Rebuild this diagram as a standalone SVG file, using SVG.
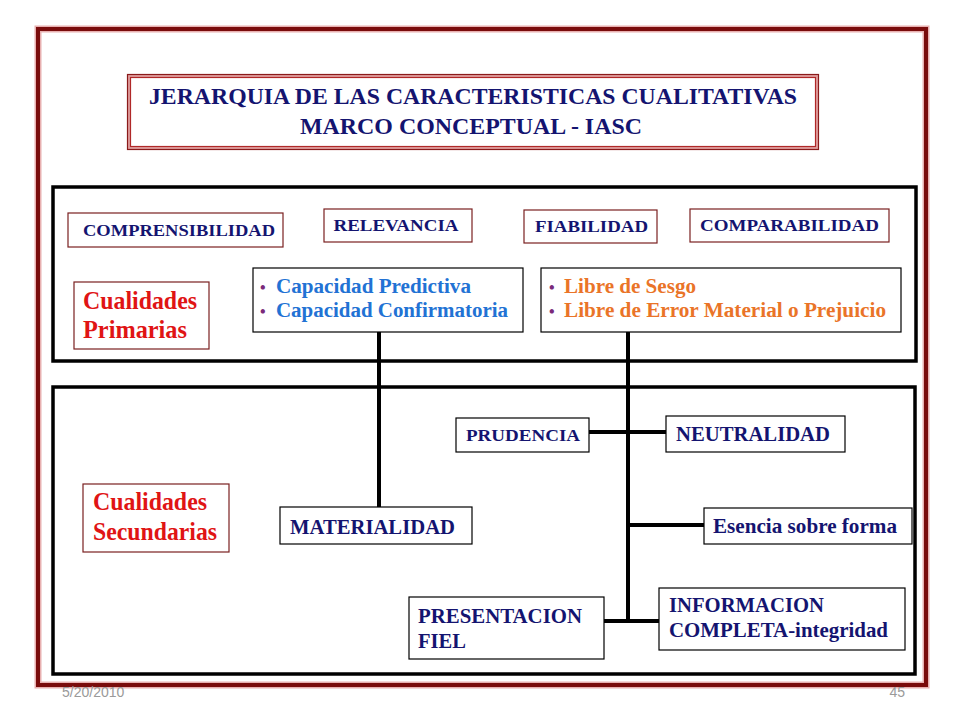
<svg xmlns="http://www.w3.org/2000/svg" width="960" height="720" viewBox="0 0 960 720">
<style>
.t{font-family:"Liberation Serif","Times New Roman",serif;font-weight:bold;fill:#141470}
.red{fill:#e01414}
.blue{fill:#2272d4}
.org{fill:#ea7428}
.bul{fill:#7a2a7a;font-size:16px}
.brn{fill:#fff;stroke:#7a2020;stroke-width:1.2}
.blk{fill:#fff;stroke:#000;stroke-width:1.2}
.conn line{stroke:#000;stroke-width:4}
.panel{fill:none;stroke:#000;stroke-width:3.5}
</style>
<rect width="960" height="720" fill="#fff"/>
<!-- outer frame -->
<rect x="38" y="29" width="888" height="656" fill="none" stroke="#e8b0b0" stroke-width="7"/>
<rect x="38" y="29" width="888" height="656" fill="none" stroke="#7a0c0c" stroke-width="4"/>
<text x="62" y="697" font-family="Liberation Sans,Arial,sans-serif" font-size="14" fill="#9a9a9a">5/20/2010</text>
<text x="905" y="697" font-family="Liberation Sans,Arial,sans-serif" font-size="14" fill="#9a9a9a" text-anchor="end">45</text>
<!-- title -->
<g id="title">
<rect x="129" y="76" width="688" height="72" fill="#fff" stroke="#e0a0a0" stroke-width="4"/>
<rect x="127.5" y="74.5" width="691" height="75" fill="none" stroke="#8a1a1a" stroke-width="1.2"/>
<rect x="130.5" y="77.5" width="685" height="69" fill="none" stroke="#b02828" stroke-width="1.2"/>
<text class="t" x="473" y="104" font-size="23" text-anchor="middle" textLength="648" lengthAdjust="spacingAndGlyphs">JERARQUIA DE LAS CARACTERISTICAS  CUALITATIVAS</text>
<text class="t" x="471" y="134" font-size="23" text-anchor="middle" textLength="342" lengthAdjust="spacingAndGlyphs">MARCO CONCEPTUAL - IASC</text>
</g>
<!-- panels -->
<rect class="panel" x="53" y="187" width="863" height="174"/>
<rect class="panel" x="53" y="387" width="862" height="287"/>
<!-- connectors -->
<g id="connectors" class="conn">
<line x1="379" y1="332" x2="379" y2="507"/>
<line x1="628" y1="332" x2="628" y2="623"/>
<line x1="589" y1="432" x2="666" y2="432"/>
<line x1="628" y1="525" x2="704" y2="525"/>
<line x1="604" y1="621" x2="659" y2="621"/>
</g>
<g id="comprensibilidad">
<rect class="brn" x="68" y="213" width="215" height="34"/>
<text class="t" x="179" y="236" font-size="17" text-anchor="middle" textLength="192" lengthAdjust="spacingAndGlyphs">COMPRENSIBILIDAD</text>
</g>
<g id="relevancia">
<rect class="brn" x="324" y="209" width="148" height="33"/>
<text class="t" x="396" y="231" font-size="17" text-anchor="middle" textLength="125" lengthAdjust="spacingAndGlyphs">RELEVANCIA</text>
</g>
<g id="fiabilidad">
<rect class="brn" x="524" y="210" width="133" height="33"/>
<text class="t" x="591.5" y="232" font-size="17" text-anchor="middle" textLength="113" lengthAdjust="spacingAndGlyphs">FIABILIDAD</text>
</g>
<g id="comparabilidad">
<rect class="brn" x="690" y="209" width="199" height="33"/>
<text class="t" x="789.5" y="231" font-size="17" text-anchor="middle" textLength="179" lengthAdjust="spacingAndGlyphs">COMPARABILIDAD</text>
</g>
<g id="cualidades-primarias">
<rect class="brn" x="74" y="282" width="135" height="67"/>
<text class="t red" x="83" y="309" font-size="25" textLength="114" lengthAdjust="spacingAndGlyphs">Cualidades</text>
<text class="t red" x="83" y="338" font-size="25" textLength="104" lengthAdjust="spacingAndGlyphs">Primarias</text>
</g>
<g id="relevancia-items">
<rect class="blk" x="253" y="268" width="270" height="64"/>
<text class="t" x="260" y="293" font-size="20"><tspan class="bul">•</tspan><tspan class="blue" x="276" textLength="195" lengthAdjust="spacingAndGlyphs">Capacidad Predictiva</tspan></text>
<text class="t" x="260" y="317" font-size="20"><tspan class="bul">•</tspan><tspan class="blue" x="276" textLength="232" lengthAdjust="spacingAndGlyphs">Capacidad Confirmatoria</tspan></text>
</g>
<g id="fiabilidad-items">
<rect class="blk" x="541" y="268" width="360" height="64"/>
<text class="t" x="549" y="293" font-size="20"><tspan class="bul">•</tspan><tspan class="org" x="564" textLength="132" lengthAdjust="spacingAndGlyphs">Libre de Sesgo</tspan></text>
<text class="t" x="549" y="317" font-size="20"><tspan class="bul">•</tspan><tspan class="org" x="564" textLength="322" lengthAdjust="spacingAndGlyphs">Libre de Error Material o Prejuicio</tspan></text>
</g>
<g id="cualidades-secundarias">
<rect class="brn" x="83" y="484" width="146" height="68"/>
<text class="t red" x="93" y="510" font-size="25" textLength="114" lengthAdjust="spacingAndGlyphs">Cualidades</text>
<text class="t red" x="93" y="540" font-size="25" textLength="124" lengthAdjust="spacingAndGlyphs">Secundarias</text>
</g>
<g id="materialidad">
<rect class="blk" x="280" y="507" width="192" height="37"/>
<text class="t" x="290" y="534" font-size="21.5" textLength="165" lengthAdjust="spacingAndGlyphs">MATERIALIDAD</text>
</g>
<g id="prudencia">
<rect class="blk" x="456" y="418" width="133" height="34"/>
<text class="t" x="466" y="441" font-size="17" textLength="114" lengthAdjust="spacingAndGlyphs">PRUDENCIA</text>
</g>
<g id="neutralidad">
<rect class="blk" x="666" y="416" width="179" height="36"/>
<text class="t" x="676" y="441" font-size="21" textLength="154" lengthAdjust="spacingAndGlyphs">NEUTRALIDAD</text>
</g>
<g id="esencia">
<rect class="blk" x="704" y="508" width="208" height="36"/>
<text class="t" x="713" y="533" font-size="21.5" textLength="184" lengthAdjust="spacingAndGlyphs">Esencia sobre forma</text>
</g>
<g id="presentacion-fiel">
<rect class="blk" x="409" y="597" width="195" height="62"/>
<text class="t" x="418" y="623" font-size="20.5" textLength="164" lengthAdjust="spacingAndGlyphs">PRESENTACION</text>
<text class="t" x="418" y="648" font-size="20.5">FIEL</text>
</g>
<g id="informacion-completa">
<rect class="blk" x="659" y="588" width="246" height="62"/>
<text class="t" x="669" y="612" font-size="21" textLength="155" lengthAdjust="spacingAndGlyphs">INFORMACION</text>
<text class="t" x="669" y="637" font-size="21" textLength="219" lengthAdjust="spacingAndGlyphs">COMPLETA-integridad</text>
</g>
</svg>
